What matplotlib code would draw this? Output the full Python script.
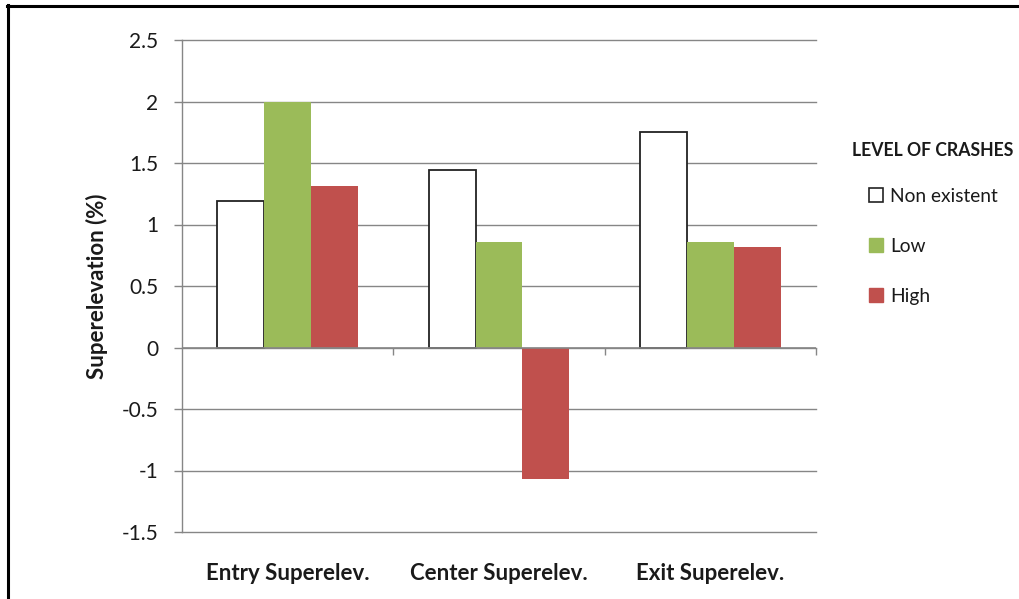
import numpy as np
import matplotlib.pyplot as plt
from matplotlib.patches import Patch
from matplotlib.lines import Line2D

# data
categories = ["Entry Superelev.", "Center Superelev.", "Exit Superelev."]
non_existent = [1.19, 1.44, 1.75]
low = [2.0, 0.855, 0.855]
high = [1.31, -1.066, 0.814]
series_names = ["Non existent", "Low", "High"]
y_ticks = [-1.5, -1, -0.5, 0, 0.5, 1, 1.5, 2, 2.5]
y_tick_labels = ["-1.5", "-1", "-0.5", "0", "0.5", "1", "1.5", "2", "2.5"]

plt.rcParams["font.family"] = ["Lato", "DejaVu Sans"]

green = "#9BBB59"
red = "#C0504D"
grid_gray = "#868686"
text_col = "#1a1a1a"

fig = plt.figure(figsize=(10.19, 5.99), dpi=100)
ax = fig.add_axes([182 / 1019, 1 - 532 / 599, (816 - 182) / 1019, (532 - 40) / 599])

x = np.arange(len(categories))
w = 1 / 4.5  # excel gap width 150%

ax.bar(x - w, non_existent, w, color="white", edgecolor="#222222", linewidth=1.3, zorder=3)
ax.bar(x, low, w, color=green, linewidth=0, zorder=3)
ax.bar(x + w, high, w, color=red, linewidth=0, zorder=3)

ax.set_xlim(-0.5, 2.5)
ax.set_ylim(-1.5, 2.5)

# horizontal gridlines
for t in y_ticks:
    ax.axhline(t, color=grid_gray, linewidth=1.0, zorder=1, clip_on=False)
# zero line with category boundary ticks (Excel style)
ax.axhline(0, color=grid_gray, linewidth=1.2, zorder=4)
bounds = np.arange(len(categories) + 1) - 0.5
ax.vlines(bounds[1:], -0.06, 0, color=grid_gray, linewidth=1.0, zorder=4, clip_on=False)

for s in ["top", "right", "bottom"]:
    ax.spines[s].set_visible(False)
ax.spines["left"].set_color(grid_gray)
ax.spines["left"].set_linewidth(1.0)

ax.set_yticks(y_ticks)
ax.set_yticklabels(y_tick_labels, fontsize=15, color=text_col)
ax.tick_params(axis="y", length=6, color=grid_gray, width=1.0, pad=11)

ax.set_xticks(x)
ax.set_xticklabels(categories, fontsize=16, fontweight="bold", color=text_col)
ax.tick_params(axis="x", length=0, pad=22)

ax.set_ylabel("Superelevation (%)", fontsize=16, fontweight="bold", color=text_col, labelpad=10)

# legend: title placed on its own, entries indented under it
fig.text(852 / 1019, 1 - 150 / 599, "LEVEL OF CRASHES", fontsize=12.7, fontweight="bold",
         color=text_col, ha="left", va="center")
handles = [
    Patch(facecolor="white", edgecolor="#222222", linewidth=1.2),
    Patch(facecolor=green, edgecolor=green),
    Patch(facecolor=red, edgecolor=red),
]
leg = fig.legend(handles, series_names, loc="upper left",
                 bbox_to_anchor=(869 / 1019, 1 - 188 / 599),
                 frameon=False, fontsize=13.8,
                 handlelength=0.75, handleheight=0.75,
                 handletextpad=0.35, labelspacing=1.72, borderaxespad=0,
                 borderpad=0, labelcolor=text_col)

# border lines on the left and top of the figure
fig.add_artist(Line2D([8 / 1019, 8 / 1019], [0, 1 - 5 / 599], color="black", linewidth=2.2,
                      transform=fig.transFigure))
fig.add_artist(Line2D([7 / 1019, 1], [1 - 6 / 599, 1 - 6 / 599], color="black", linewidth=2.2,
                      transform=fig.transFigure))

fig.savefig("out.png", dpi=100)
